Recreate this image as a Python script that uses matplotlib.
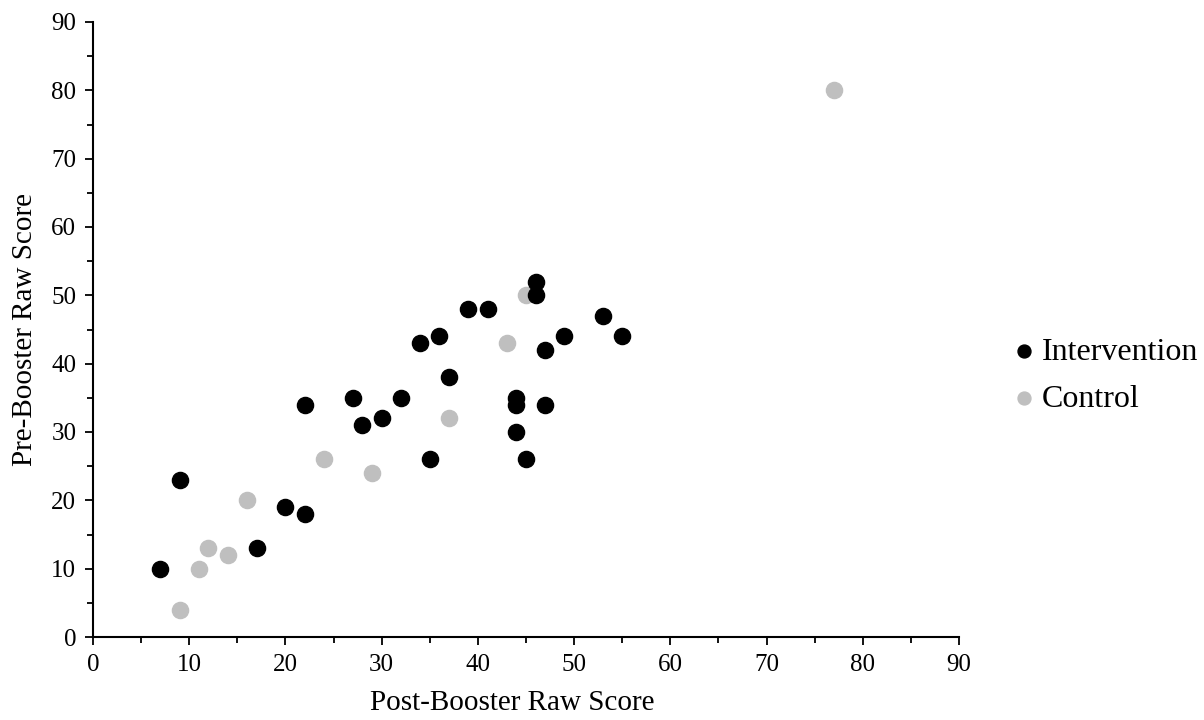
import numpy as np
import matplotlib.pyplot as plt
from matplotlib.ticker import MultipleLocator

plt.rcParams['font.family'] = ['Liberation Serif', 'DejaVu Serif']

# Intervention group
int_post = [7, 9, 17, 20, 22, 22, 27, 28, 30, 32, 34, 35, 36, 37, 39, 41,
            44, 44, 44, 45, 46, 46, 47, 47, 49, 53, 55]
int_pre = [10, 23, 13, 19, 18, 34, 35, 31, 32, 35, 43, 26, 44, 38, 48, 48,
           35, 34, 30, 26, 52, 50, 42, 34, 44, 47, 44]

# Control group
ctl_post = [9, 11, 12, 14, 16, 24, 29, 37, 43, 45, 77]
ctl_pre = [4, 10, 13, 12, 20, 26, 24, 32, 43, 50, 80]

fig = plt.figure(figsize=(12.04, 7.2), dpi=100)
ax = fig.add_axes([93/1204, 1 - 637/720, (959-93)/1204, (637-22)/720])

ax.scatter(int_post, int_pre, s=135, color='black', label='Intervention', zorder=3)
ax.scatter(ctl_post, ctl_pre, s=135, color='#BFBFBF', label='Control', zorder=2)

ax.set_xlim(0, 90)
ax.set_ylim(0, 90)
ax.xaxis.set_major_locator(MultipleLocator(10))
ax.xaxis.set_minor_locator(MultipleLocator(5))
ax.yaxis.set_major_locator(MultipleLocator(10))
ax.yaxis.set_minor_locator(MultipleLocator(5))
ax.tick_params(which='major', length=6, width=1.3, labelsize=18, direction='out', pad=6)
ax.tick_params(which='minor', length=4, width=1.3, direction='out')
for side in ['top', 'right']:
    ax.spines[side].set_visible(False)
for side in ['left', 'bottom']:
    ax.spines[side].set_linewidth(1.5)

ax.set_xlabel('Post-Booster Raw Score', fontsize=21)
ax.set_ylabel('Pre-Booster Raw Score', fontsize=21)
ax.xaxis.set_label_coords(0.484, -0.086)
ax.yaxis.set_label_coords(-0.064, 0.5)

ax.legend(loc='center left', bbox_to_anchor=(1.005, 0.425), frameon=False,
          fontsize=23, handletextpad=-0.45, markerscale=0.8, labelspacing=0.55)

fig.savefig('out.png', dpi=100)
